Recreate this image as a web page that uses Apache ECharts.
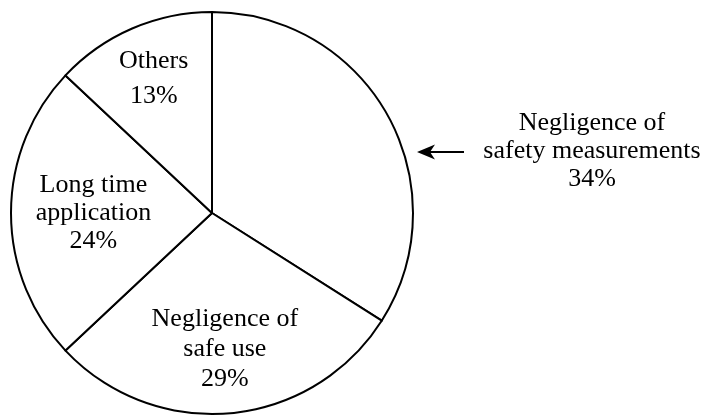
<!DOCTYPE html>
<html>
<head>
<meta charset="utf-8">
<script src="https://cdn.jsdelivr.net/npm/echarts@6/dist/echarts.min.js"></script>
<style>
    html, body { margin: 0; padding: 0; background: #fff; }
    #chart { width: 706px; height: 417px; }
</style>
</head>
<body>
<div id="chart"></div>
<script>
// slice names, clockwise from 12 o'clock
const causeNames = [
    'Negligence of\nsafety measurements',
    'Negligence of\nsafe use',
    'Long time\napplication',
    'Others'
];
const causeShares = [34, 29, 24, 13];

// label look per slice
const labelLineHeights = [28, 30, 28, 35];
const labelRadius = [0, 0.68, 0.59, 0.73];   // fraction of pie radius, 0 = outside label

const pieCenter = [212, 213];
const pieRadius = 201;

let chart = echarts.init(document.getElementById('chart'), null, { renderer: 'canvas' });

const total = causeShares.reduce((a, b) => a + b, 0);
// mid angle of each slice (degrees, math convention), start at 90 and go clockwise
let midAngles = [];
let acc = 0;
for (let i = 0; i < causeShares.length; i++) {
    midAngles.push(90 - (acc + causeShares[i] / 2) / total * 360);
    acc += causeShares[i];
}

let seriesData = causeNames.map((name, i) => {
    return {
        name: name,
        value: causeShares[i],
        label: { lineHeight: labelLineHeights[i] }
    };
});

let option = {
    backgroundColor: '#fff',
    animation: false,
    series: [{
        type: 'pie',
        center: pieCenter,
        radius: pieRadius,
        startAngle: 90,
        clockwise: true,
        silent: true,
        data: seriesData,
        itemStyle: { color: '#fff', borderColor: '#000', borderWidth: 2 },
        label: {
            show: true,
            position: 'inside',
            formatter: '{b}\n{c}%',
            fontFamily: 'Liberation Serif',
            fontSize: 26,
            color: '#000',
            align: 'center'
        },
        labelLine: { show: false },
        labelLayout: (params) => {
            let i = params.dataIndex;
            if (labelRadius[i] === 0) {
                return { x: 592, y: 151, align: 'center', verticalAlign: 'middle' };
            }
            let a = midAngles[i] * Math.PI / 180;
            let r = pieRadius * labelRadius[i];
            return {
                x: pieCenter[0] + r * Math.cos(a),
                y: pieCenter[1] - r * Math.sin(a),
                align: 'center',
                verticalAlign: 'middle'
            };
        }
    }],
    graphic: [
        // arrow pointing at the safety-measurement slice
        { type: 'line', shape: { x1: 464, y1: 152, x2: 428, y2: 152 }, style: { stroke: '#000', lineWidth: 2 } },
        { type: 'polygon', shape: { points: [[417, 152], [435, 144.5], [430, 152], [435, 159.5]] }, style: { fill: '#000' } }
    ]
};
chart.setOption(option);
</script>
</body>
</html>
